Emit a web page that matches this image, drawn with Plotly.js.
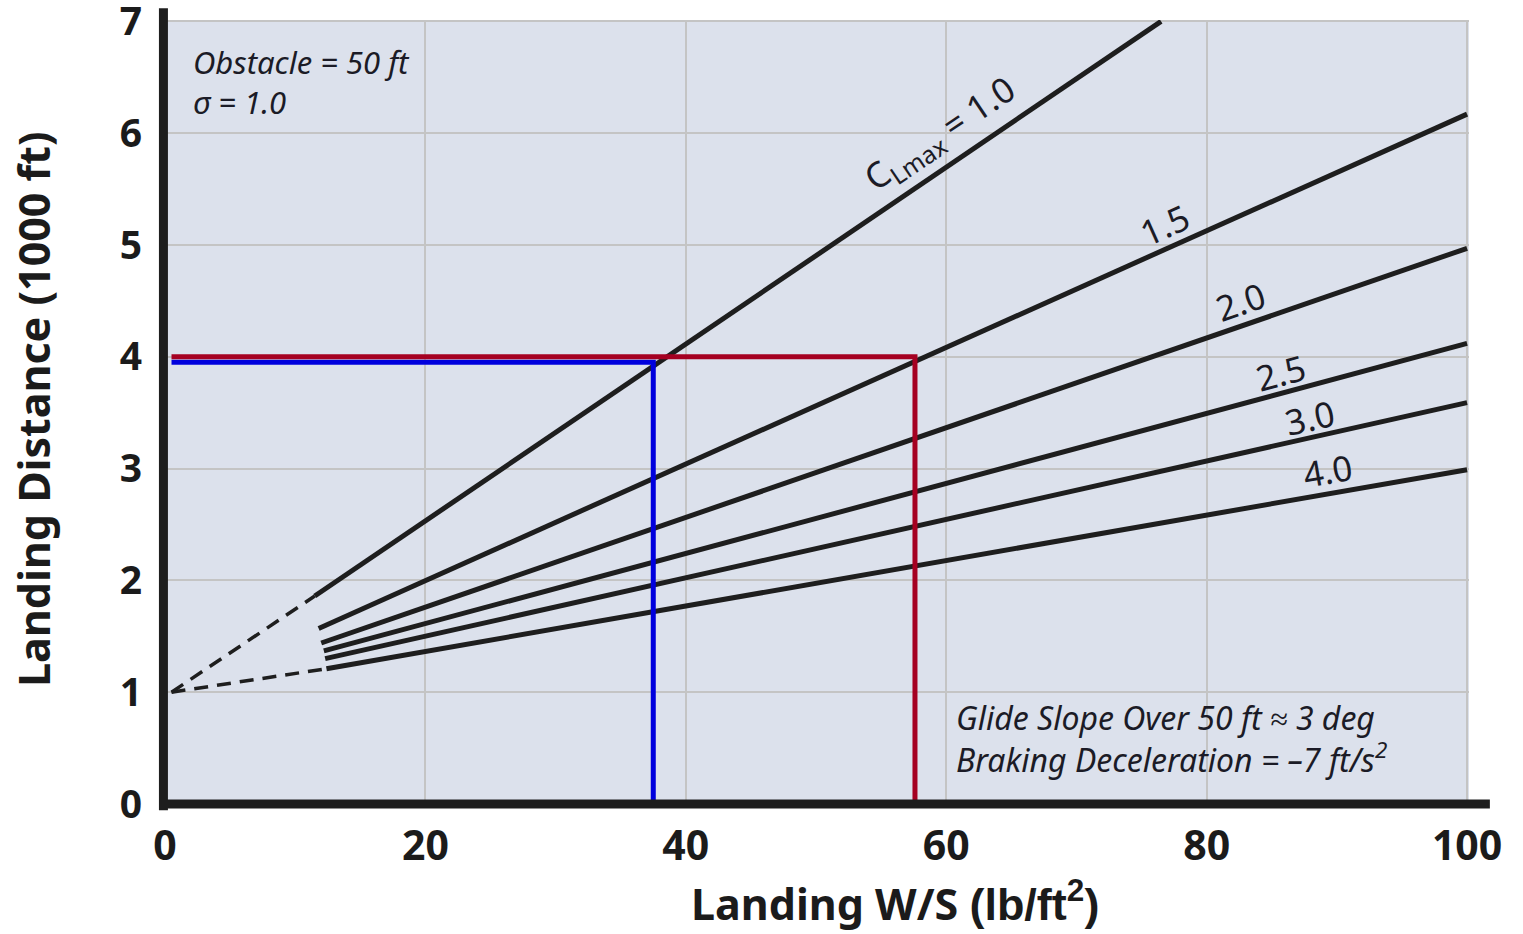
<!DOCTYPE html>
<html>
<head>
<meta charset="utf-8">
<script src="https://cdn.plot.ly/plotly-3.0.1.min.js"></script>
<style>html,body{margin:0;padding:0;background:#fff;}#chart{width:1523px;height:934px;}</style>
</head>
<body>
<div id="chart"></div>
<script>
// CLmax curves (landing distance in 1000 ft vs landing W/S in lb/ft^2)
const clmaxLabels = ['C<sub>Lmax</sub> = 1.0', '1.5', '2.0', '2.5', '3.0', '4.0'];
const xStart = [11.5, 11.8, 12.0, 12.2, 12.3, 12.4];
const yStart = [1.86, 1.57, 1.44, 1.37, 1.30, 1.21];
const xEnd   = [76.5, 100, 100, 100, 100, 100];
const yEnd   = [7.0, 6.17, 4.97, 4.12, 3.59, 2.99];
// dashed extrapolation to origin point
const dashOriginX = 0.5;
const dashOriginY = 1.0;
// label positions / angles
const labelX = [59.5, 76.8, 82.6, 85.7, 87.9, 89.3];
const labelY = [5.99, 5.18, 4.49, 3.86, 3.46, 2.98];
const labelAngle = [-34, -24, -19, -15, -12.5, -10];
// example reading lines
const blueX = [0.5, 37.5, 37.5];
const blueY = [3.95, 3.95, 0];
const redX = [0.5, 57.6, 57.6];
const redY = [4.0, 4.0, 0];

const xTicks = [0, 20, 40, 60, 80, 100];
const yTicks = [0, 1, 2, 3, 4, 5, 6, 7];

const traces = [];
for (let i = 0; i < clmaxLabels.length; i++) {
  traces.push({
    x: [xStart[i], xEnd[i]], y: [yStart[i], yEnd[i]],
    mode: 'lines', line: {color: '#1e1e1e', width: 5}, hoverinfo: 'skip', showlegend: false, cliponaxis: false
  });
}
// dashed segments for outer curves
[0, 5].forEach(i => {
  traces.push({
    x: [dashOriginX, xStart[i]], y: [dashOriginY, yStart[i]],
    mode: 'lines', line: {color: '#1e1e1e', width: 3.5, dash: '14px,9px'}, hoverinfo: 'skip', showlegend: false
  });
});
traces.push({x: blueX, y: blueY, mode: 'lines', line: {color: '#0000dd', width: 5}, showlegend: false, cliponaxis: false});
traces.push({x: redX, y: redY, mode: 'lines', line: {color: '#a50021', width: 5}, showlegend: false, cliponaxis: false});

const annotations = clmaxLabels.map((t, i) => ({
  x: labelX[i], y: labelY[i], xref: 'x', yref: 'y', text: t, showarrow: false,
  textangle: labelAngle[i], font: {family: 'Noto Sans', size: 35, color: '#1b1b26'}
}));
annotations.push({
  x: 0.02, y: 0.976, xref: 'paper', yref: 'paper', xanchor: 'left', yanchor: 'top', align: 'left',
  text: '<i>Obstacle = 50 ft<br>σ = 1.0</i>', showarrow: false,
  font: {family: 'Noto Sans', size: 31, color: '#1b1b26'}
});
annotations.push({
  x: 0.605, y: 0.14, xref: 'paper', yref: 'paper', xanchor: 'left', yanchor: 'top', align: 'left',
  text: '<i>Glide Slope Over 50 ft ≈ 3 deg<br>Braking Deceleration = –7 ft/s<sup>2</sup></i>', showarrow: false,
  font: {family: 'Noto Sans', size: 32, color: '#1b1b26'}
});
// axis titles
annotations.push({
  x: 0.56, y: -0.125, xref: 'paper', yref: 'paper', xanchor: 'center', yanchor: 'middle', showarrow: false,
  text: '<b>Landing W/S</b> <b><span style="font-family:Liberation Sans;font-size:45px">(lb/ft<sup>2</sup>)</span></b>',
  font: {family: 'Noto Sans', size: 43, color: '#1b1b1b'}
});
annotations.push({
  x: -0.101, y: 0.503, xref: 'paper', yref: 'paper', xanchor: 'center', yanchor: 'middle', showarrow: false,
  textangle: -90, text: '<b>Landing Distance (1000 ft)</b>',
  font: {family: 'Noto Sans', size: 43, color: '#1b1b1b'}
});

const layout = {
  width: 1523, height: 934,
  margin: {l: 165, r: 54, t: 20, b: 130},
  paper_bgcolor: '#ffffff', plot_bgcolor: '#dce1ec',
  showlegend: false,
  xaxis: {
    range: [0, 100.15], tickvals: xTicks, ticktext: xTicks.map(String),
    showgrid: true, gridcolor: '#c4c4c4', gridwidth: 2, zeroline: false, showline: false,
    ticks: '', ticklabelstandoff: 14, ticklabeloverflow: 'allow',
    tickfont: {family: 'Noto Sans', size: 41, color: '#1b1b1b', weight: 'bold'}
  },
  yaxis: {
    range: [0, 7.012], tickvals: yTicks, ticktext: yTicks.map(String),
    showgrid: true, gridcolor: '#c4c4c4', gridwidth: 2, zeroline: false, showline: false,
    ticks: '', ticklabelstandoff: 22, ticklabeloverflow: 'allow',
    tickfont: {family: 'Noto Sans', size: 39, color: '#1b1b1b', weight: 'bold'}
  },
  shapes: [
    {type: 'line', xref: 'paper', yref: 'paper', x0: -0.0012, x1: -0.0012, y0: -0.008, y1: 1.015, line: {color: '#1e1e1e', width: 9}},
    {type: 'line', xref: 'paper', yref: 'paper', x0: -0.004, x1: 1.016, y0: 0.0, y1: 0.0, line: {color: '#1e1e1e', width: 9}}
  ],
  annotations: annotations
};

Plotly.newPlot('chart', traces, layout, {displayModeBar: false, staticPlot: true});
</script>
</body>
</html>
